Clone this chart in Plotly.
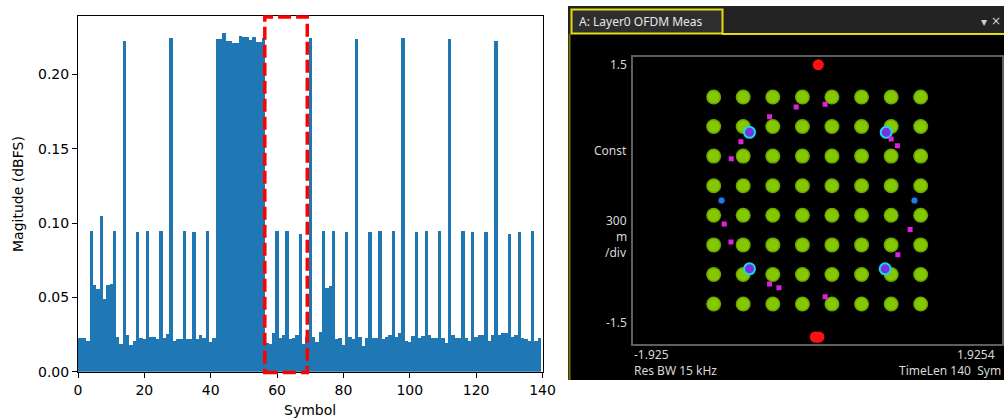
import plotly.graph_objects as go

W, H = 1004, 419

# ---------------- symbol power data ----------------
symbols = list(range(140))
magnitude = [
    0.0226, 0.0226, 0.0226, 0.0209, 0.0944, 0.0581, 0.0554, 0.1049, 0.0492, 0.0581,
    0.0590, 0.0944, 0.0235, 0.0186, 0.2226, 0.0244, 0.0177, 0.0204, 0.0937, 0.0226,
    0.0217, 0.0944, 0.0235, 0.0235, 0.0217, 0.0944, 0.0226, 0.0253, 0.2246, 0.0209,
    0.0217, 0.0220, 0.0944, 0.0217, 0.0217, 0.0937, 0.0218, 0.0246, 0.0225, 0.0944,
    0.0199, 0.0226, 0.2235, 0.2235, 0.2276, 0.2226, 0.2222, 0.2213, 0.2213, 0.2258,
    0.2253, 0.2249, 0.2231, 0.2249, 0.2220, 0.2220, 0.2247, 0.0190, 0.0186, 0.0258,
    0.0944, 0.0226, 0.0247, 0.0944, 0.0218, 0.0224, 0.0247, 0.0926, 0.0186, 0.0235,
    0.2246, 0.0235, 0.0200, 0.0265, 0.0945, 0.0560, 0.0575, 0.0945, 0.0217, 0.0225,
    0.0178, 0.0937, 0.0233, 0.0222, 0.2235, 0.0233, 0.0176, 0.0230, 0.0937, 0.0229,
    0.0226, 0.0944, 0.0217, 0.0235, 0.0245, 0.0944, 0.0235, 0.0260, 0.2246, 0.0207,
    0.0200, 0.0238, 0.0937, 0.0226, 0.0240, 0.0946, 0.0245, 0.0230, 0.0226, 0.0944,
    0.0230, 0.0193, 0.2235, 0.0250, 0.0226, 0.0226, 0.0944, 0.0226, 0.0204, 0.0937,
    0.0235, 0.0244, 0.0244, 0.0937, 0.0204, 0.0244, 0.2226, 0.0244, 0.0258, 0.0258,
    0.0926, 0.0235, 0.0244, 0.0937, 0.0226, 0.0217, 0.0204, 0.0944, 0.0204, 0.0226,
]
x_ticks = [0, 20, 40, 60, 80, 100, 120, 140]
y_ticks = [0.0, 0.05, 0.10, 0.15, 0.20]
y_tick_text = ["0.00", "0.05", "0.10", "0.15", "0.20"]
x_range = [0, 140]
y_range = [0, 0.2392]
window_symbols = [56.3, 69.1]   # highlighted span of symbols

# ---------------- constellation data ----------------
qam_levels = [-1.080, -0.772, -0.463, -0.154, 0.154, 0.463, 0.772, 1.080]
qpsk_i = [-0.706, 0.720, -0.706, 0.709]
qpsk_q = [0.711, 0.711, -0.713, -0.713]
pilot_i = [-0.998, 1.015]
pilot_q = [0.0, 0.0]
sync_i = [0.012, -0.020, 0.000, 0.018]
sync_q = [1.415, -1.424, -1.426, -1.424]
rs_i = [-0.219, 0.083, -0.497, -0.796, -0.897, 0.772, 0.837,
        -0.970, -0.900, 0.970, 0.842, -0.497, -0.399, 0.083]
rs_q = [0.975, 1.003, 0.874, 0.614, 0.436, 0.642, 0.572,
        -0.244, -0.434, -0.303, -0.567, -0.872, -0.910, -1.004]
const_x_range = [-1.925, 1.9254]
const_y_range = [-1.5, 1.5]


def px(x):
    return x / W


def py(y):
    return 1 - y / H


fig = go.Figure()

# bar chart of symbol magnitude
fig.add_trace(go.Bar(
    x=symbols, y=magnitude, width=1.0,
    marker=dict(color="#1f77b4", line=dict(width=0)),
    xaxis="x", yaxis="y", hoverinfo="skip", showlegend=False,
))

# 64QAM clusters
qam_i = [i for q in qam_levels for i in qam_levels]
qam_q = [q for q in qam_levels for i in qam_levels]
fig.add_trace(go.Scatter(
    x=qam_i, y=qam_q, mode="markers", xaxis="x2", yaxis="y2",
    marker=dict(size=15, color="rgba(118,186,0,0.9)", line=dict(width=0)),
    hoverinfo="skip", showlegend=False,
))
fig.add_trace(go.Scatter(
    x=qam_i, y=qam_q, mode="markers", xaxis="x2", yaxis="y2",
    marker=dict(size=12, color="#86c800", line=dict(width=0)),
    hoverinfo="skip", showlegend=False,
))
# QPSK points: cyan ring with purple core
fig.add_trace(go.Scatter(
    x=qpsk_i, y=qpsk_q, mode="markers", xaxis="x2", yaxis="y2",
    marker=dict(size=11, color="#7a30e0", line=dict(width=2, color="#18d8e8")),
    hoverinfo="skip", showlegend=False,
))
# pilots
fig.add_trace(go.Scatter(
    x=pilot_i, y=pilot_q, mode="markers", xaxis="x2", yaxis="y2",
    marker=dict(size=7, color="#1e7ef0", line=dict(width=1, color="#0a1a30")),
    hoverinfo="skip", showlegend=False,
))
# reference symbols
fig.add_trace(go.Scatter(
    x=rs_i, y=rs_q, mode="markers", xaxis="x2", yaxis="y2",
    marker=dict(size=5, symbol="square", color="#e020e0", line=dict(width=0)),
    hoverinfo="skip", showlegend=False,
))
# sync symbols
fig.add_trace(go.Scatter(
    x=sync_i, y=sync_q, mode="markers", xaxis="x2", yaxis="y2",
    marker=dict(size=11, color="#ff1010", line=dict(width=0)),
    hoverinfo="skip", showlegend=False,
))

shapes = [
    # instrument window
    dict(type="rect", xref="paper", yref="paper", x0=px(568), x1=px(1004),
         y0=py(380), y1=py(6), fillcolor="#232323", line=dict(width=0), layer="below"),
    dict(type="rect", xref="paper", yref="paper", x0=px(568), x1=px(1004),
         y0=py(380), y1=py(34), fillcolor="#000000", line=dict(width=0), layer="below"),
    dict(type="rect", xref="paper", yref="paper", x0=px(571.5), x1=px(722.5),
         y0=py(33.5), y1=py(9.5), fillcolor="#2e2e2e",
         line=dict(width=2, color="#e4dc10"), layer="below"),
    dict(type="line", xref="paper", yref="paper", x0=px(722), x1=px(1004),
         y0=py(34), y1=py(34), line=dict(width=2, color="#e4dc10"), layer="below"),
    dict(type="line", xref="paper", yref="paper", x0=px(569.5), x1=px(569.5),
         y0=py(34), y1=py(380), line=dict(width=2, color="#7c7610"), layer="below"),
    # highlighted window on bar chart
    dict(type="rect", xref="x", yref="y domain", x0=window_symbols[0], x1=window_symbols[1],
         y0=-0.002, y1=0.997, line=dict(color="#ff0000", width=3.5, dash="13px,5px"),
         fillcolor="rgba(0,0,0,0)", layer="above"),
]

font_mpl = dict(family="DejaVu Sans", size=14, color="#000000")
font_vsa = dict(family="Noto Sans", size=12, color="#d8d8d8")

annotations = [
    dict(text="Magitude (dBFS)", x=px(18), y=py(194), xref="paper", yref="paper",
         textangle=-90, showarrow=False, font=font_mpl, xanchor="center", yanchor="middle"),
    dict(text="Symbol", x=px(310), y=py(410), xref="paper", yref="paper",
         showarrow=False, font=font_mpl, xanchor="center", yanchor="middle"),
    dict(text="A: Layer0 OFDM Meas", x=px(577), y=py(21.5), xref="paper", yref="paper",
         showarrow=False, font=dict(family="Noto Sans", size=12, color="#e8e8e8"),
         xanchor="left", yanchor="middle"),
    dict(text="▾", x=px(984), y=py(22), xref="paper", yref="paper", showarrow=False,
         font=dict(family="DejaVu Sans", size=12, color="#cfcfcf"),
         xanchor="center", yanchor="middle"),
    dict(text="×", x=px(1003), y=py(21), xref="paper", yref="paper", showarrow=False,
         font=dict(family="DejaVu Sans", size=12, color="#cfcfcf"),
         xanchor="right", yanchor="middle"),
    dict(text="1.5", x=px(628.5), y=py(64), xref="paper", yref="paper", showarrow=False,
         font=font_vsa, xanchor="right", yanchor="middle"),
    dict(text="Const", x=px(628.5), y=py(150), xref="paper", yref="paper", showarrow=False,
         font=font_vsa, xanchor="right", yanchor="middle"),
    dict(text="300", x=px(628.5), y=py(220.5), xref="paper", yref="paper", showarrow=False,
         font=font_vsa, xanchor="right", yanchor="middle"),
    dict(text="m", x=px(628.5), y=py(236.5), xref="paper", yref="paper", showarrow=False,
         font=font_vsa, xanchor="right", yanchor="middle"),
    dict(text="/div", x=px(628.5), y=py(252.5), xref="paper", yref="paper", showarrow=False,
         font=font_vsa, xanchor="right", yanchor="middle"),
    dict(text="-1.5", x=px(628.5), y=py(322.5), xref="paper", yref="paper", showarrow=False,
         font=font_vsa, xanchor="right", yanchor="middle"),
    dict(text="-1.925", x=px(632), y=py(354), xref="paper", yref="paper", showarrow=False,
         font=font_vsa, xanchor="left", yanchor="middle"),
    dict(text="1.9254", x=px(997), y=py(354), xref="paper", yref="paper", showarrow=False,
         font=font_vsa, xanchor="right", yanchor="middle"),
    dict(text="Res BW 15 kHz", x=px(632), y=py(370), xref="paper", yref="paper",
         showarrow=False, font=font_vsa, xanchor="left", yanchor="middle"),
    dict(text="TimeLen 140  Sym", x=px(896.5), y=py(370), xref="paper", yref="paper",
         showarrow=False, font=font_vsa, xanchor="left", yanchor="middle"),
]

fig.update_layout(
    width=W, height=H,
    autosize=False,
    margin=dict(l=0, r=0, t=0, b=0, pad=0),
    paper_bgcolor="#ffffff",
    plot_bgcolor="rgba(0,0,0,0)",
    bargap=0,
    showlegend=False,
    xaxis=dict(
        domain=[px(78), px(542.5)], anchor="y", range=x_range, automargin=False,
        tickmode="array", tickvals=x_ticks, ticks="outside", ticklen=5, tickwidth=1,
        tickcolor="#000000", showline=True, linecolor="#000000", linewidth=1, mirror=True,
        showgrid=False, zeroline=False, tickfont=font_mpl,
    ),
    yaxis=dict(
        domain=[py(371.7), py(16)], anchor="x", range=y_range, automargin=False,
        tickmode="array", tickvals=y_ticks, ticktext=y_tick_text, ticks="outside",
        ticklen=5, tickwidth=1, tickcolor="#000000", showline=True, linecolor="#000000",
        linewidth=1, mirror=True, showgrid=False, zeroline=False, tickfont=font_mpl,
    ),
    xaxis2=dict(
        domain=[px(632.7), px(1001.7)], anchor="y2", range=const_x_range, automargin=False,
        showticklabels=False, ticks="", showgrid=False, zeroline=False,
        showline=True, linecolor="#5e5e5e", linewidth=2, mirror=True,
    ),
    yaxis2=dict(
        domain=[py(344.3), py(56.7)], anchor="x2", range=const_y_range, automargin=False,
        showticklabels=False, ticks="", showgrid=False, zeroline=False,
        showline=True, linecolor="#5e5e5e", linewidth=2, mirror=True,
    ),
    shapes=shapes,
    annotations=annotations,
)

fig.write_html(
    "out.html",
    config={"responsive": False, "displayModeBar": False},
    post_script="document.body.style.margin='0';document.body.style.overflow='hidden';",
)
